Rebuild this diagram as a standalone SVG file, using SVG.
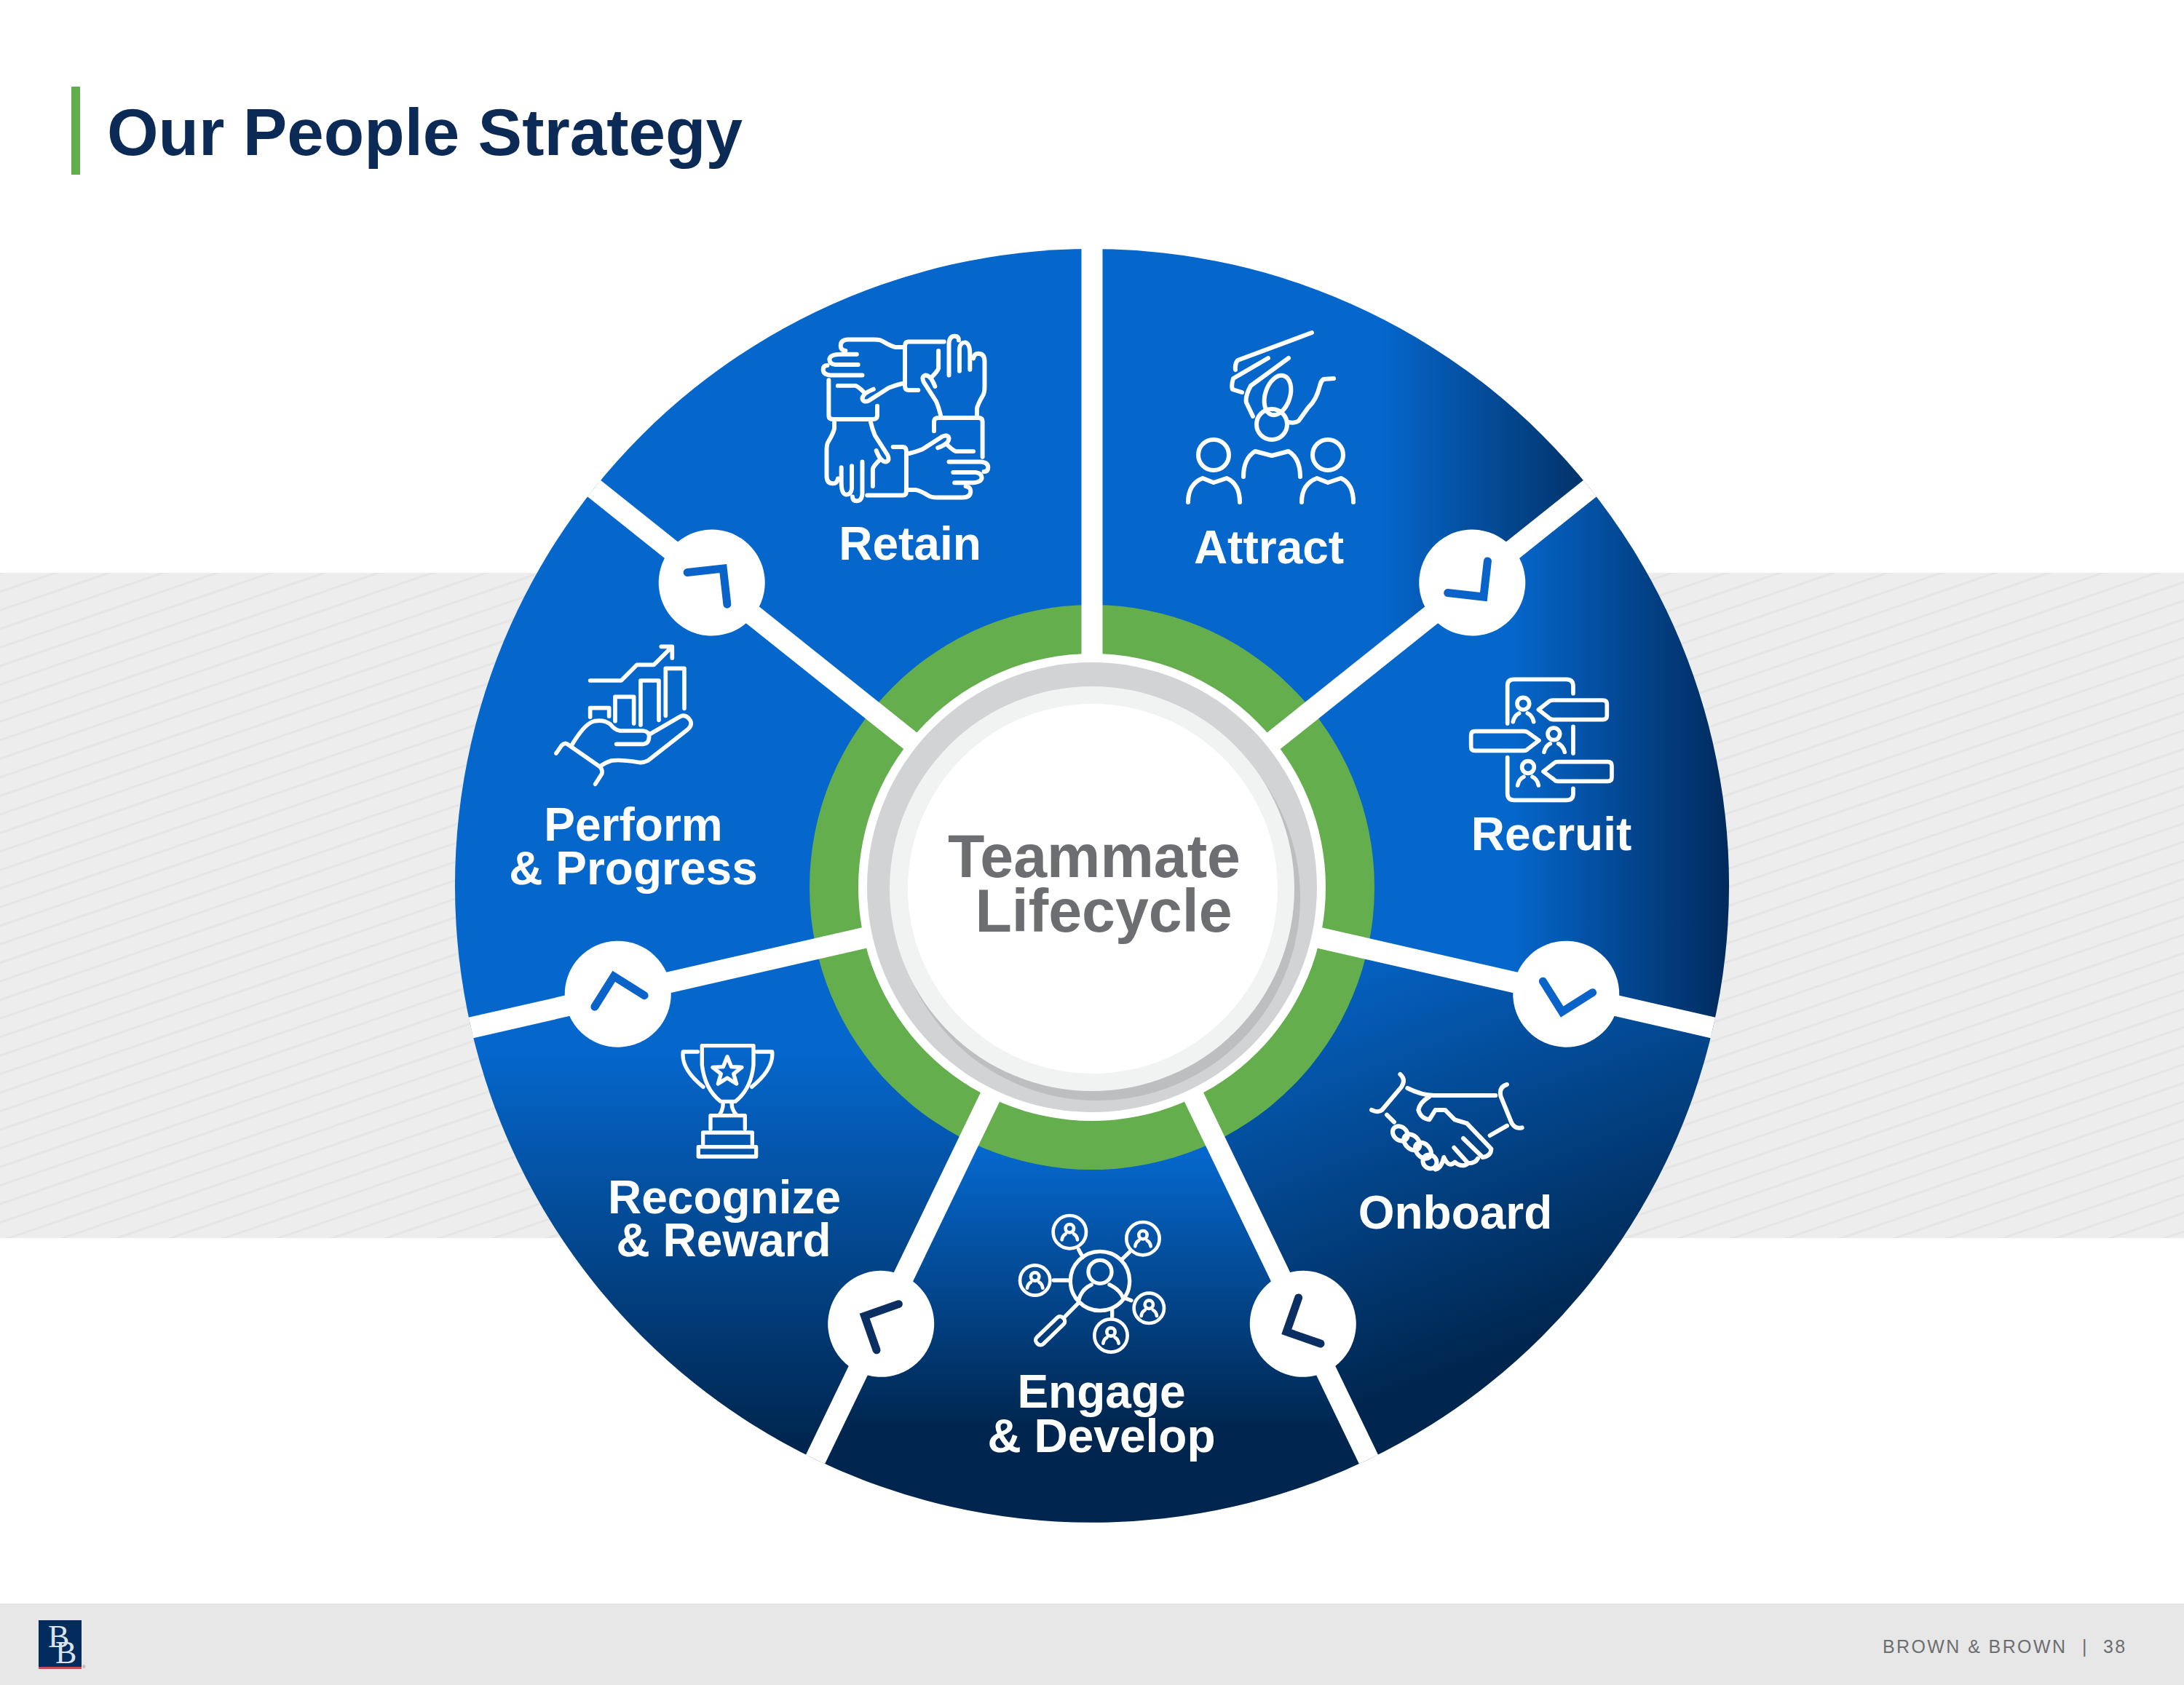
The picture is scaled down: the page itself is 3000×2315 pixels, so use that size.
<svg xmlns="http://www.w3.org/2000/svg" xmlns:xlink="http://www.w3.org/1999/xlink" width="3000" height="2315" viewBox="0 0 3000 2315">
<style>
text{font-family:"Liberation Sans",Arial,sans-serif}
.lb{font-weight:700;font-size:64px;fill:#fff;text-anchor:middle}
.ct{font-weight:700;font-size:82.5px;fill:#6d6e71;text-anchor:middle}
.ft{font-size:25px;fill:#6d6e71;letter-spacing:2.4px}
.ic{fill:none;stroke:#fff;stroke-width:6;stroke-linecap:round;stroke-linejoin:round}
.sp{stroke:#fff;stroke-width:29;fill:none}
.hub{fill:#fff}
.chev{fill:none;stroke-width:11;stroke-linecap:round;stroke-linejoin:miter}
</style>
<defs>
<pattern id="stripes" patternUnits="userSpaceOnUse" width="200" height="24.1" patternTransform="translate(0,837) rotate(-19)">
<rect width="200" height="24.1" fill="#ededed"/>
<rect width="200" height="3" y="0" fill="#e5e5e5"/>
</pattern>
<linearGradient id="gAttract" gradientUnits="userSpaceOnUse" x1="1900" y1="0" x2="2190" y2="0"><stop offset="0" stop-color="#0566cb"/><stop offset="1" stop-color="#023064"/></linearGradient>
<linearGradient id="gRecruit" gradientUnits="userSpaceOnUse" x1="2080" y1="0" x2="2376" y2="0"><stop offset="0" stop-color="#0566cb"/><stop offset="1" stop-color="#012a5c"/></linearGradient>
<linearGradient id="gOnboard" gradientUnits="userSpaceOnUse" x1="1780" y1="1300" x2="2000" y2="1880"><stop offset="0" stop-color="#0566cb"/><stop offset="1" stop-color="#00264f"/></linearGradient>
<linearGradient id="gEngage" gradientUnits="userSpaceOnUse" x1="0" y1="1590" x2="0" y2="1960"><stop offset="0" stop-color="#0566cb"/><stop offset="1" stop-color="#00264f"/></linearGradient>
<linearGradient id="gRecognize" gradientUnits="userSpaceOnUse" x1="0" y1="1450" x2="0" y2="1980"><stop offset="0" stop-color="#0566cb"/><stop offset="1" stop-color="#00264f"/></linearGradient>
<g id="hand">
<path d="M40.6,18 V4 Q41,-1 47,-1 H104 Q110,-1 110,4 V55"/>
<path d="M102,-5 V-14 Q103,-20 110,-32 Q113,-36 113,-45 V-82 Q113,-93 104,-93 Q98,-93 97,-86"/>
<path d="M77,-68 V-100 Q78,-109 85,-109 Q92,-108 92,-92 V-70"/>
<path d="M62,-62 V-108 Q63,-118 70,-118 Q76,-118 76,-112"/>
<path d="M47,-97 V-72 Q46,-68 38,-60"/>
<path d="M50,-5 Q48,-14 44,-24 L26,-52 Q22,-60 28,-62 Q36,-62 42,-46"/>
</g>
<g id="pers">
<circle cx="0" cy="-15" r="17"/>
<path d="M-32,32 Q-30,15 -17,8 M17,8 Q30,15 32,32"/>
</g>
</defs>

<rect width="3000" height="2315" fill="#fff"/>
<rect id="band" x="0" y="787" width="3000" height="914" fill="url(#stripes)"/>

<g id="title">
<rect x="98" y="119" width="12" height="121" fill="#62ae4d"/>
<text x="147" y="213" font-size="90.8" font-weight="700" fill="#0b2a55">Our People Strategy</text>
</g>

<g id="wheel">
<g id="seg-attract"><path d="M1500,1217 L1500,342 A875,875 0 0 1 2184,671 Z" fill="url(#gAttract)"/></g>
<g id="seg-recruit"><path d="M1500,1217 L2184,671 A875,875 0 0 1 2353,1412 Z" fill="url(#gRecruit)"/></g>
<g id="seg-onboard"><path d="M1500,1217 L2353,1412 A875,875 0 0 1 1880,2005 Z" fill="url(#gOnboard)"/></g>
<g id="seg-engage"><path d="M1500,1217 L1880,2005 A875,875 0 0 1 1120,2005 Z" fill="url(#gEngage)"/></g>
<g id="seg-recognize"><path d="M1500,1217 L1120,2005 A875,875 0 0 1 647,1412 Z" fill="url(#gRecognize)"/></g>
<g id="seg-perform"><path d="M1500,1217 L647,1412 A875,875 0 0 1 816,671 Z" fill="#0566cb"/></g>
<g id="seg-retain"><path d="M1500,1217 L816,671 A875,875 0 0 1 1500,342 Z" fill="#0566cb"/></g>
</g>

<circle id="green-ring" cx="1500" cy="1219" r="388" fill="#64ae4e"/>

<g id="connectors">
<line class="sp" x1="1500" y1="1217" x2="1500" y2="342"/>
<line class="sp" x1="1500" y1="1217" x2="2184" y2="671"/>
<line class="sp" x1="1500" y1="1217" x2="2353" y2="1412"/>
<line class="sp" x1="1500" y1="1217" x2="1880" y2="2005"/>
<line class="sp" x1="1500" y1="1217" x2="1120" y2="2005"/>
<line class="sp" x1="1500" y1="1217" x2="647" y2="1412"/>
<line class="sp" x1="1500" y1="1217" x2="816" y2="671"/>
<g transform="translate(1500,1217) rotate(51.43) translate(0,-668)"><circle class="hub" r="73"/><polyline class="chev" stroke="#0a63c9" points="-10,-35 25,0 -10,35"/></g>
<g transform="translate(1500,1217) rotate(102.86) translate(0,-668)"><circle class="hub" r="73"/><polyline class="chev" stroke="#0a63c9" points="-10,-35 25,0 -10,35"/></g>
<g transform="translate(1500,1217) rotate(154.29) translate(0,-668)"><circle class="hub" r="73"/><polyline class="chev" stroke="#0b2f63" points="-10,-35 25,0 -10,35"/></g>
<g transform="translate(1500,1217) rotate(205.71) translate(0,-668)"><circle class="hub" r="73"/><polyline class="chev" stroke="#0b2f63" points="-10,-35 25,0 -10,35"/></g>
<g transform="translate(1500,1217) rotate(257.14) translate(0,-668)"><circle class="hub" r="73"/><polyline class="chev" stroke="#0a63c9" points="-10,-35 25,0 -10,35"/></g>
<g transform="translate(1500,1217) rotate(308.57) translate(0,-668)"><circle class="hub" r="73"/><polyline class="chev" stroke="#0a63c9" points="-10,-35 25,0 -10,35"/></g>
</g>

<g id="center">
<circle cx="1500" cy="1219" r="321" fill="#fff"/>
<circle cx="1500" cy="1219" r="309" fill="#d1d3d4"/>
<circle cx="1507" cy="1233" r="279" fill="#bcbec0"/>
<circle cx="1500" cy="1221" r="278" fill="#f1f2f2"/>
<circle cx="1501" cy="1221" r="254" fill="#fff"/>
<text class="ct" x="1503" y="1205">Teammate</text>
<text class="ct" x="1516" y="1280">Lifecycle</text>
</g>

<g id="retain">
<g class="ic" transform="translate(1244,575) scale(.96)" style="stroke-width:6.2">
<use xlink:href="#hand" href="#hand"/>
<use xlink:href="#hand" href="#hand" transform="rotate(90)"/>
<use xlink:href="#hand" href="#hand" transform="rotate(180)"/>
<use xlink:href="#hand" href="#hand" transform="rotate(270)"/>
</g>
<text class="lb" x="1250" y="769">Retain</text>
</g>

<g id="attract">
<g class="ic">
<path d="M1802,457 L1700,495 Q1696,500 1697,508"/>
<path d="M1742,492 L1694,520 Q1691,530 1693,535 L1706,539"/>
<path d="M1770,492 L1718,530 Q1710,545 1712,553 L1721,572"/>
<ellipse cx="1755" cy="543" rx="17" ry="28" transform="rotate(18 1755 543)"/>
<path d="M1832,520 L1818,521 Q1814,524 1813,530 Q1808,550 1797,560 L1784,578 Q1778,582 1770,580"/>
<circle cx="1747" cy="583" r="21"/>
<path d="M1708,655 Q1708,630 1724,620 L1747,626 L1770,620 Q1786,630 1786,655"/>
<circle cx="1667" cy="625" r="21"/>
<path d="M1632,690 Q1632,665 1652,657 L1667,663 L1685,657 Q1703,665 1703,690"/>
<circle cx="1824" cy="625" r="21"/>
<path d="M1788,690 Q1788,665 1809,657 L1824,663 L1842,657 Q1859,665 1859,690"/>
</g>
<text class="lb" x="1743" y="774">Attract</text>
</g>

<g id="recruit">
<g class="ic" transform="translate(1950,880) scale(.3333)" style="stroke-width:17">
<path d="M362,342 V185 Q362,160 390,160 H605 Q633,160 633,188 V218 M633,355 V465 M362,482 V630 Q362,658 390,658 H605 Q633,658 633,632 V610"/>
<circle cx="427" cy="260" r="25"/><path d="M385,335 Q390,310 410,300 M445,300 Q465,310 470,335"/>
<circle cx="553" cy="385" r="25"/><path d="M513,460 Q518,435 538,425 M572,425 Q592,435 598,460"/>
<circle cx="447" cy="522" r="25"/><path d="M404,597 Q409,572 429,562 M465,562 Q485,572 490,597"/>
<path d="M490,285 L535,250 Q540,246 550,246 H755 Q772,246 772,262 V310 Q772,326 755,326 H550 Q540,326 535,320 Z"/>
<path d="M492,412 L445,378 Q440,374 430,374 H228 Q212,374 212,390 V438 Q212,454 228,454 H430 Q440,454 445,448 Z"/>
<path d="M510,540 L555,505 Q560,500 570,500 H775 Q792,500 792,516 V564 Q792,580 775,580 H570 Q560,580 555,574 Z"/>
</g>
<text class="lb" x="2131" y="1168">Recruit</text>
</g>

<g id="onboard">
<g class="ic" transform="translate(1860,1450) scale(.3333)" style="stroke-width:18">
<path d="M190,78 Q215,100 195,130 L115,225 Q100,238 72,225"/>
<path d="M630,120 Q595,130 605,170 L650,280 Q665,305 692,298"/>
<path d="M220,135 Q280,165 330,165 H583"/>
<path d="M310,170 Q270,195 265,225 Q275,260 310,265 L335,225 H375 L415,265 L465,280 L565,385 Q565,415 530,420 L450,342"/>
<path d="M510,425 Q500,445 470,445 L412,380 M470,445 Q445,465 415,440 Q390,465 370,420 Q360,465 335,470"/>
<ellipse cx="190" cy="322" rx="34" ry="27" transform="rotate(42 190 322)"/>
<ellipse cx="238" cy="358" rx="38" ry="27" transform="rotate(45 238 358)"/>
<ellipse cx="285" cy="392" rx="38" ry="27" transform="rotate(45 285 392)"/>
<ellipse cx="312" cy="438" rx="30" ry="27" transform="rotate(45 312 438)"/>
<path d="M135,245 L165,275 M560,330 L630,290"/>
</g>
<text class="lb" x="1999" y="1688">Onboard</text>
</g>

<g id="engage">
<g class="ic" transform="translate(1370,1640) scale(.3333)" style="stroke-width:16">
<circle cx="423" cy="360" r="122"/><circle cx="423" cy="322" r="48"/>
<path d="M335,440 Q345,395 388,375 M462,375 Q505,395 518,430"/>
<path d="M335,230 L352,262 M512,272 L545,240 M232,357 H298 M520,428 L552,440 M473,480 V505 M335,450 L280,505"/>
<rect x="-75" y="-19" width="150" height="38" rx="17" transform="translate(218,565) rotate(-44)"/>
<g style="stroke-width:14">
<circle cx="298" cy="158" r="68"/><use xlink:href="#pers" href="#pers" x="298" y="158"/>
<circle cx="600" cy="185" r="68"/><use xlink:href="#pers" href="#pers" x="600" y="185"/>
<circle cx="155" cy="357" r="62"/><use xlink:href="#pers" href="#pers" x="155" y="357"/>
<circle cx="625" cy="472" r="62"/><use xlink:href="#pers" href="#pers" x="625" y="472"/>
<circle cx="468" cy="585" r="68"/><use xlink:href="#pers" href="#pers" x="468" y="585"/>
</g>
</g>
<text class="lb" x="1513" y="1934">Engage</text>
<text class="lb" x="1513" y="1995">&amp; Develop</text>
</g>

<g id="recognize">
<g class="ic" transform="translate(900,1400) scale(.3333)" style="stroke-width:16">
<path d="M193,110 H405 V190 Q395,290 330,340 H270 Q205,290 193,190 Z"/>
<path d="M175,135 H115 Q105,205 198,280 M418,135 H482 Q490,205 398,280"/>
<path d="M297,155 L314,197 L357,199 L323,226 L335,267 L297,243 L259,267 L271,226 L237,199 L280,197 Z"/>
<path d="M280,345 Q280,375 265,395 M315,345 Q315,375 335,395"/>
<path d="M228,452 V398 H370 V452 M197,515 V468 H400 V515"/>
<rect x="178" y="527" width="238" height="40"/>
</g>
<text class="lb" x="995" y="1667">Recognize</text>
<text class="lb" x="994" y="1726">&amp; Reward</text>
</g>

<g id="perform">
<g class="ic" transform="translate(720,860) scale(.3333)" style="stroke-width:17">
<path d="M272,225 H400 L465,160 H535 L605,90 M565,85 H610 V132"/>
<path d="M272,375 V338 H350 V372 M375,392 V292 H452 V402 M480,408 V225 H555 V388 M583,370 V175 H660 V340"/>
<path d="M197,490 Q250,400 290,392 Q330,385 355,405 Q375,430 395,432 H490 Q515,435 515,455 Q515,485 490,487 H380"/>
<path d="M520,445 L640,375 Q665,360 685,390 Q695,410 670,430 L510,555 Q490,565 470,562 Q400,550 360,555 Q330,565 312,580 L175,485 Q165,482 155,492 L132,525"/>
<path d="M312,580 Q325,595 320,610 L293,652"/>
</g>
<text class="lb" x="870" y="1155">Perform</text>
<text class="lb" x="870" y="1215">&amp; Progress</text>
</g>

<g id="footer">
<rect x="0" y="2203" width="3000" height="112" fill="#e7e7e8"/>
<rect x="53" y="2226" width="59" height="64" fill="#042b5e"/>
<rect x="53" y="2290" width="59" height="3" fill="#c2505c"/>
<text x="66" y="2263" font-size="44" fill="#d9e3ee" style="font-family:'Liberation Serif',serif">B</text>
<text x="76" y="2285" font-size="44" fill="#d9e3ee" style="font-family:'Liberation Serif',serif">B</text>
<text x="113" y="2292" font-size="6" fill="#6d6e71">®</text>
<text class="ft" x="2586" y="2271">BROWN &amp; BROWN</text>
<text class="ft" x="2860" y="2271">|</text>
<text class="ft" x="2889" y="2271">38</text>
</g>
</svg>
